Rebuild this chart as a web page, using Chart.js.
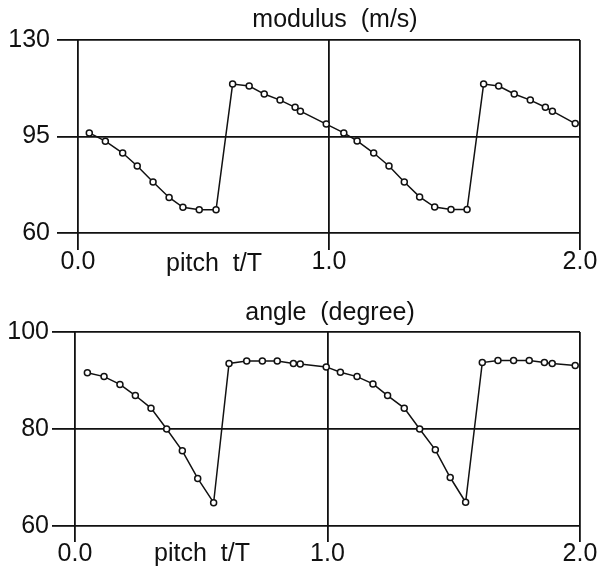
<!DOCTYPE html>
<html>
<head>
<meta charset="utf-8">
<script src="https://cdn.jsdelivr.net/npm/chart.js@4/dist/chart.umd.min.js"></script>
<style>
  html, body { margin: 0; padding: 0; background: #fff; }
  .panel { position: relative; width: 597px; height: 285px; }
</style>
</head>
<body>
<div class="panel"><canvas id="modulusChart"></canvas></div>
<div class="panel"><canvas id="angleChart"></canvas></div>
<script>
// values
const modulusT = [0.045, 0.109, 0.178, 0.236, 0.299, 0.363, 0.418, 0.483, 0.550,
  0.616, 0.682, 0.742, 0.805, 0.865, 0.886, 0.989,
  1.059, 1.112, 1.178, 1.239, 1.300, 1.361, 1.421, 1.486, 1.550,
  1.616, 1.676, 1.738, 1.802, 1.862, 1.890, 1.981];
const modulusV = [96.3, 93.3, 89.0, 84.3, 78.5, 72.9, 69.3, 68.4, 68.4,
  114.0, 113.3, 110.4, 108.2, 105.6, 104.2, 99.5,
  96.3, 93.4, 89.0, 84.3, 78.5, 73.1, 69.4, 68.5, 68.5,
  114.0, 113.3, 110.4, 108.2, 105.6, 104.2, 99.7];

const angleT = [0.049, 0.115, 0.178, 0.239, 0.301, 0.363, 0.425, 0.486, 0.549,
  0.610, 0.680, 0.742, 0.801, 0.865, 0.892, 0.995,
  1.051, 1.117, 1.180, 1.238, 1.304, 1.365, 1.427, 1.486, 1.547,
  1.613, 1.675, 1.737, 1.799, 1.859, 1.890, 1.981];
const angleV = [91.6, 90.8, 89.2, 86.9, 84.3, 80.0, 75.5, 69.8, 64.8,
  93.5, 94.0, 94.0, 94.0, 93.5, 93.4, 92.8,
  91.7, 90.8, 89.3, 86.9, 84.3, 80.0, 75.7, 70.0, 64.9,
  93.7, 94.1, 94.1, 94.1, 93.7, 93.5, 93.1];

const xTicks = [0, 1, 2];
const modulusTicks = [60, 95, 130];
const angleTicks = [60, 80, 100];

const INK = '#111';
Chart.defaults.font.family = '"Liberation Sans", Arial, sans-serif';
Chart.defaults.font.size = 25;
Chart.defaults.color = INK;

// title above the plot and the "pitch t/T" label sitting on the tick row
const labelsPlugin = {
  id: 'figureLabels',
  afterDraw(chart, args, opts) {
    const ctx = chart.ctx;
    ctx.save();
    ctx.fillStyle = INK;
    ctx.font = '25px "Liberation Sans", Arial, sans-serif';
    ctx.textAlign = 'center';
    ctx.textBaseline = 'alphabetic';
    ctx.fillText(opts.title, opts.titleX, opts.titleY);
    ctx.fillText('pitch  t/T', opts.pitchX, opts.pitchY);
    ctx.restore();
  }
};

function makeChart(id, t, v, yTicks, cfg) {
  const points = t.map((x, i) => ({ x: x, y: v[i] }));
  return new Chart(document.getElementById(id), {
    type: 'scatter',
    data: {
      datasets: [{
        data: points,
        showLine: true,
        borderColor: INK,
        borderWidth: 1.5,
        pointRadius: 3,
        pointBackgroundColor: '#fff',
        pointBorderColor: INK,
        pointBorderWidth: 1.5,
      }],
    },
    options: {
      responsive: true,
      maintainAspectRatio: false,
      animation: false,
      layout: { padding: { top: cfg.top, right: 17, left: 0, bottom: 0 } },
      plugins: {
        legend: { display: false },
        tooltip: { enabled: false },
        figureLabels: cfg.labels,
      },
      scales: {
        x: {
          type: 'linear',
          min: xTicks[0],
          max: xTicks[xTicks.length - 1],
          afterBuildTicks: (s) => { s.ticks = xTicks.map(value => ({ value })); },
          afterFit: (s) => { s.height = cfg.xHeight; s.paddingLeft = 0; s.paddingRight = 0; },
          border: { display: false },
          grid: { color: INK, lineWidth: 1.8, tickLength: cfg.xTick },
          ticks: {
            padding: 0,
            maxRotation: 0,
            font: { size: 25, lineHeight: 1 },
            callback: (val) => val.toFixed(1),
          },
        },
        y: {
          min: yTicks[0],
          max: yTicks[yTicks.length - 1],
          afterBuildTicks: (s) => { s.ticks = yTicks.map(value => ({ value })); },
          afterFit: (s) => { s.width = cfg.yWidth; s.paddingTop = 0; s.paddingBottom = 0; },
          border: { display: false },
          grid: { color: INK, lineWidth: 1.8, tickLength: cfg.yTick },
          ticks: { padding: cfg.yPad, font: { size: 25, lineHeight: 1 } },
        },
      },
    },
    plugins: [labelsPlugin],
  });
}

makeChart('modulusChart', modulusT, modulusV, modulusTicks, {
  top: 40, xHeight: 52, yWidth: 78, xTick: 17, yTick: 21, yPad: 7,
  labels: { title: 'modulus  (m/s)', titleX: 335, titleY: 27, pitchX: 214, pitchY: 271 },
});

makeChart('angleChart', angleT, angleV, angleTicks, {
  top: 47, xHeight: 44, yWidth: 75, xTick: 16, yTick: 23, yPad: 3,
  labels: { title: 'angle  (degree)', titleX: 330, titleY: 35, pitchX: 202, pitchY: 276 },
});
</script>
</body>
</html>
